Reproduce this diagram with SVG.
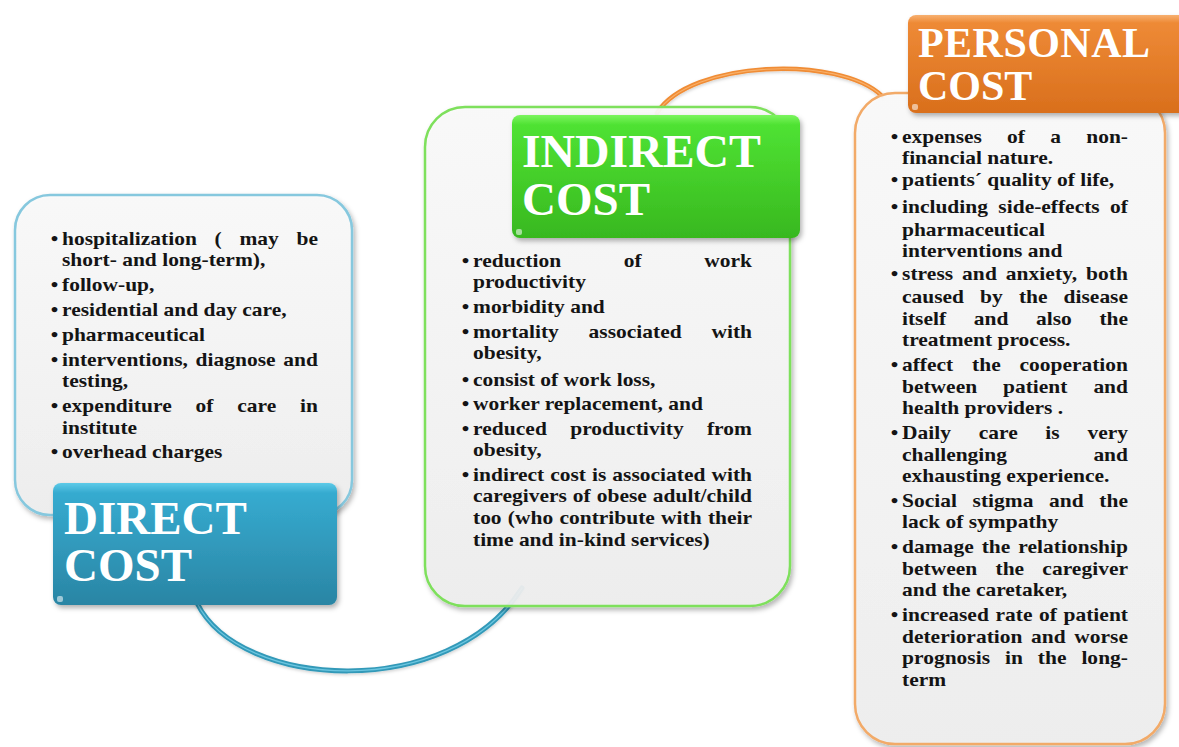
<svg xmlns="http://www.w3.org/2000/svg" width="1179" height="747" viewBox="0 0 1179 747">
<defs>
<linearGradient id="boxFill" x1="0" y1="0" x2="0" y2="1"><stop offset="0" stop-color="#fafafa"/><stop offset="1" stop-color="#efefef"/></linearGradient>
<linearGradient id="blueHead" x1="0" y1="0" x2="0" y2="1"><stop offset="0" stop-color="#5ccae8"/><stop offset="0.08" stop-color="#36abd0"/><stop offset="1" stop-color="#2a85a4"/></linearGradient>
<linearGradient id="greenHead" x1="0" y1="0" x2="0" y2="1"><stop offset="0" stop-color="#7cf560"/><stop offset="0.08" stop-color="#4fe233"/><stop offset="1" stop-color="#38b81f"/></linearGradient>
<linearGradient id="orangeHead" x1="0" y1="0" x2="0" y2="1"><stop offset="0" stop-color="#f7b070"/><stop offset="0.08" stop-color="#ee8a36"/><stop offset="1" stop-color="#d96f1c"/></linearGradient>
<filter id="sh" x="-10%" y="-10%" width="120%" height="120%"><feDropShadow dx="2" dy="3" stdDeviation="2.5" flood-color="#000" flood-opacity="0.3"/></filter>
<filter id="shs" x="-10%" y="-10%" width="120%" height="120%"><feDropShadow dx="0.5" dy="1.5" stdDeviation="1.5" flood-color="#000" flood-opacity="0.18"/></filter>
</defs>
<style>
.t{font-family:"Liberation Serif","Times New Roman",serif;font-weight:bold;font-size:19px;fill:#141414}
.h{font-family:"Liberation Serif","Times New Roman",serif;font-weight:bold;fill:#ffffff}
.box{fill:url(#boxFill);fill-opacity:0.93;stroke-width:2.5;filter:url(#sh)}
.hl{fill:#ffffff;fill-opacity:0.55}
</style>
<rect width="1179" height="747" fill="#ffffff"/>
<g id="connectors" fill="none" stroke-linecap="round">
<path d="M197 603 C240 690 450 702 522 588" stroke="#3399b8" stroke-width="5" filter="url(#shs)"/>
<path d="M197 603 C240 690 450 702 522 588" stroke="#6cc6e0" stroke-width="1.2"/>
<path d="M657 113 C690 60 840 55 882 96" stroke="#f08c34" stroke-width="4.5" filter="url(#shs)"/>
<path d="M657 113 C690 60 840 55 882 96" stroke="#f8b06a" stroke-width="1.2"/>
</g>
<g id="direct-cost">
<rect class="box" x="15" y="195" width="337" height="320" rx="35" stroke="#86c8de"/>
<g transform="translate(62,0) scale(1.13,1)">
<text class="t" x="-10" y="245">•</text><text class="t" y="245" textLength="226.5" lengthAdjust="spacing" style="word-spacing:10.9px">hospitalization ( may be</text>
<text class="t" y="266">short- and long-term),</text>
<text class="t" x="-10" y="291">•</text><text class="t" y="291">follow-up,</text>
<text class="t" x="-10" y="316">•</text><text class="t" y="316">residential and day care,</text>
<text class="t" x="-10" y="341">•</text><text class="t" y="341">pharmaceutical</text>
<text class="t" x="-10" y="366">•</text><text class="t" y="366" textLength="226.5" lengthAdjust="spacing" style="word-spacing:2.1px">interventions, diagnose and</text>
<text class="t" y="387">testing,</text>
<text class="t" x="-10" y="412">•</text><text class="t" y="412" textLength="226.5" lengthAdjust="spacing" style="word-spacing:16.2px">expenditure of care in</text>
<text class="t" y="434">institute</text>
<text class="t" x="-10" y="458">•</text><text class="t" y="458">overhead charges</text>
</g>
<rect x="53" y="483" width="284" height="122" rx="8" fill="url(#blueHead)" filter="url(#sh)"/>
<rect class="hl" x="57" y="596" width="6" height="6" rx="2"/>
<text class="h" x="64" y="534" font-size="47">DIRECT</text>
<text class="h" x="64" y="581" font-size="47">COST</text>
</g>
<g id="indirect-cost">
<rect class="box" x="425" y="107" width="365" height="499" rx="40" stroke="#7ee05c"/>
<rect x="512" y="115" width="288" height="123" rx="8" fill="url(#greenHead)" filter="url(#sh)"/>
<rect class="hl" x="516" y="229" width="6" height="6" rx="2"/>
<text class="h" x="522" y="167" font-size="47" textLength="239" lengthAdjust="spacingAndGlyphs">INDIRECT</text>
<text class="h" x="522" y="215" font-size="47">COST</text>
<g transform="translate(473,0) scale(1.13,1)">
<text class="t" x="-10" y="267">•</text><text class="t" y="267" textLength="246.9" lengthAdjust="spacing" style="word-spacing:50.6px">reduction of work</text>
<text class="t" y="288">productivity</text>
<text class="t" x="-10" y="313">•</text><text class="t" y="313">morbidity and</text>
<text class="t" x="-10" y="338">•</text><text class="t" y="338" textLength="246.9" lengthAdjust="spacing" style="word-spacing:21.6px">mortality associated with</text>
<text class="t" y="359">obesity,</text>
<text class="t" x="-10" y="386">•</text><text class="t" y="386">consist of work loss,</text>
<text class="t" x="-10" y="410">•</text><text class="t" y="410">worker replacement, and</text>
<text class="t" x="-10" y="435">•</text><text class="t" y="435" textLength="246.9" lengthAdjust="spacing" style="word-spacing:15.8px">reduced productivity from</text>
<text class="t" y="456">obesity,</text>
<text class="t" x="-10" y="481">•</text><text class="t" y="481" textLength="246.9" lengthAdjust="spacing" style="word-spacing:0.5px">indirect cost is associated with</text>
<text class="t" y="502" textLength="246.9" lengthAdjust="spacing" style="word-spacing:0.5px">caregivers of obese adult/child</text>
<text class="t" y="524" textLength="246.9" lengthAdjust="spacing" style="word-spacing:0.8px">too (who contribute with their</text>
<text class="t" y="546">time and in-kind services)</text>
</g>
</g>
<g id="personal-cost">
<rect class="box" x="855" y="93" width="310" height="651" rx="40" stroke="#f2aa68"/>
<rect x="908" y="15" width="280" height="98" rx="8" fill="url(#orangeHead)" filter="url(#sh)"/>
<rect class="hl" x="912" y="104" width="6" height="6" rx="2"/>
<text class="h" x="918" y="57" font-size="42" textLength="232" lengthAdjust="spacing">PERSONAL</text>
<text class="h" x="918" y="100" font-size="42">COST</text>
<g transform="translate(902,0) scale(1.13,1)">
<text class="t" x="-10" y="143">•</text><text class="t" y="143" textLength="200" lengthAdjust="spacing" style="word-spacing:17.6px">expenses of a non-</text>
<text class="t" y="164">financial nature.</text>
<text class="t" x="-10" y="186">•</text><text class="t" y="186">patients´ quality of life,</text>
<text class="t" x="-10" y="213">•</text><text class="t" y="213" textLength="200" lengthAdjust="spacing" style="word-spacing:4.5px">including side-effects of</text>
<text class="t" y="236">pharmaceutical</text>
<text class="t" y="257">interventions and</text>
<text class="t" x="-10" y="280">•</text><text class="t" y="280" textLength="200" lengthAdjust="spacing" style="word-spacing:3px">stress and anxiety, both</text>
<text class="t" y="303" textLength="200" lengthAdjust="spacing" style="word-spacing:9.5px">caused by the disease</text>
<text class="t" y="325" textLength="200" lengthAdjust="spacing" style="word-spacing:19.7px">itself and also the</text>
<text class="t" y="346">treatment process.</text>
<text class="t" x="-10" y="371">•</text><text class="t" y="371" textLength="200" lengthAdjust="spacing" style="word-spacing:11.9px">affect the cooperation</text>
<text class="t" y="393" textLength="200" lengthAdjust="spacing" style="word-spacing:18.2px">between patient and</text>
<text class="t" y="414">health providers .</text>
<text class="t" x="-10" y="439">•</text><text class="t" y="439" textLength="200" lengthAdjust="spacing" style="word-spacing:19.7px">Daily care is very</text>
<text class="t" y="461" textLength="200" lengthAdjust="spacing" style="word-spacing:71.7px">challenging and</text>
<text class="t" y="482">exhausting experience.</text>
<text class="t" x="-10" y="507">•</text><text class="t" y="507" textLength="200" lengthAdjust="spacing" style="word-spacing:9.1px">Social stigma and the</text>
<text class="t" y="528">lack of sympathy</text>
<text class="t" x="-10" y="553">•</text><text class="t" y="553" textLength="200" lengthAdjust="spacing" style="word-spacing:2.3px">damage the relationship</text>
<text class="t" y="575" textLength="200" lengthAdjust="spacing" style="word-spacing:11.3px">between the caregiver</text>
<text class="t" y="596">and the caretaker,</text>
<text class="t" x="-10" y="621">•</text><text class="t" y="621" textLength="200" lengthAdjust="spacing" style="word-spacing:1px">increased rate of patient</text>
<text class="t" y="643" textLength="200" lengthAdjust="spacing" style="word-spacing:2.9px">deterioration and worse</text>
<text class="t" y="664" textLength="200" lengthAdjust="spacing" style="word-spacing:8.4px">prognosis in the long-</text>
<text class="t" y="686">term</text>
</g>
</g>
</svg>
